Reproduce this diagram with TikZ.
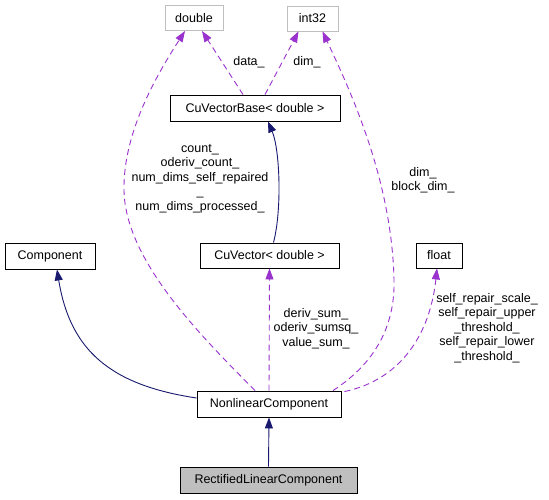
\documentclass[tikz,border=0pt]{standalone}
\usepackage{fontspec}
\setmainfont{Liberation Sans}
\usetikzlibrary{arrows.meta}
\definecolor{edgepurple}{HTML}{9A32CD}
\definecolor{edgenavy}{HTML}{191970}
\definecolor{greybox}{HTML}{BFBFBF}
\begin{document}
\begin{tikzpicture}[x=1pt,y=-1pt,
  every node/.style={font=\fontsize{12.5}{14.5}\selectfont, inner sep=0pt},
  cls/.style={draw=black, line width=0.9pt, minimum height=26pt, fill=white},
  ghost/.style={draw=greybox, line width=0.9pt, minimum height=25pt, fill=white},
  usage/.style={draw=edgepurple, line width=0.9pt, dash pattern=on 6pt off 4pt, -{Triangle[length=11pt,width=8pt]}},
  inherit/.style={draw=edgenavy, line width=0.9pt, -{Triangle[length=11pt,width=8pt]}, fill=none},
  lbl/.style={align=center}
]
\useasboundingbox[fill=white] (0,0) rectangle (549,499);

\node[ghost, minimum width=58pt] (double) at (194,18) {double};
\node[ghost, minimum width=51pt] (int32) at (312.5,18.5) {int32};
\node[cls, minimum width=170pt] (cvb) at (255,108) {CuVectorBase< double >};
\node[cls, minimum width=139pt, minimum height=25pt] (cv) at (269.5,255.5) {CuVector< double >};
\node[cls, minimum width=90pt] (comp) at (50,256) {Component};
\node[cls, minimum width=46pt, minimum height=25pt] (float) at (439,255.5) {float};
\node[cls, minimum width=144pt] (nl) at (269,404) {NonlinearComponent};
\node[cls, minimum width=177pt, fill=greybox] (rl) at (268.5,480) {RectifiedLinearComponent};

% usage edges
\draw[usage] ([xshift=-12pt]cvb.north) -- ([xshift=8pt]double.south);
\draw[usage] ([xshift=10pt]cvb.north) -- ([xshift=-14pt]int32.south);
\draw[usage] ([xshift=-14pt]nl.north) .. controls (200,335) and (125,260) .. (124,190)
  .. controls (123,130) and (160,70) .. ([xshift=-9pt]double.south);
\draw[usage] ([xshift=64pt]nl.north) .. controls (380,360) and (395,320) .. (394,280)
  .. controls (392,180) and (350,90) .. ([xshift=10pt]int32.south);
\draw[usage] (nl.north) -- (cv.south);
\draw[usage] ([xshift=3pt,yshift=-1pt]nl.north east) .. controls (400,380) and (430,335) .. ([xshift=-2pt]float.south);

% inheritance edges
\draw[inherit] ([xshift=4pt]cv.north) .. controls (282,210) and (280,150) .. ([xshift=13pt]cvb.south);
\draw[inherit] ([yshift=6pt]nl.west) .. controls (110,385) and (70,350) .. ([xshift=7pt]comp.south);
\draw[inherit] (rl.north) -- (nl.south);

% labels
\node[lbl] (ldata) at (249,62) {data\_};
\node[lbl] (ldim) at (307,62) {dim\_};
\node[lbl, anchor=north] (lcount) at (200,144) {count\_\\oderiv\_count\_\\num\_dims\_self\_repaired\\\_\\num\_dims\_processed\_};
\node[lbl, anchor=north] (lblock) at (423,167) {dim\_\\block\_dim\_};
\node[lbl, anchor=north] (lderiv) at (316,308) {deriv\_sum\_\\oderiv\_sumsq\_\\value\_sum\_};
\node[lbl, anchor=north] (lfloat) at (487,293) {self\_repair\_scale\_\\self\_repair\_upper\\\_threshold\_\\self\_repair\_lower\\\_threshold\_};
\end{tikzpicture}
\end{document}
